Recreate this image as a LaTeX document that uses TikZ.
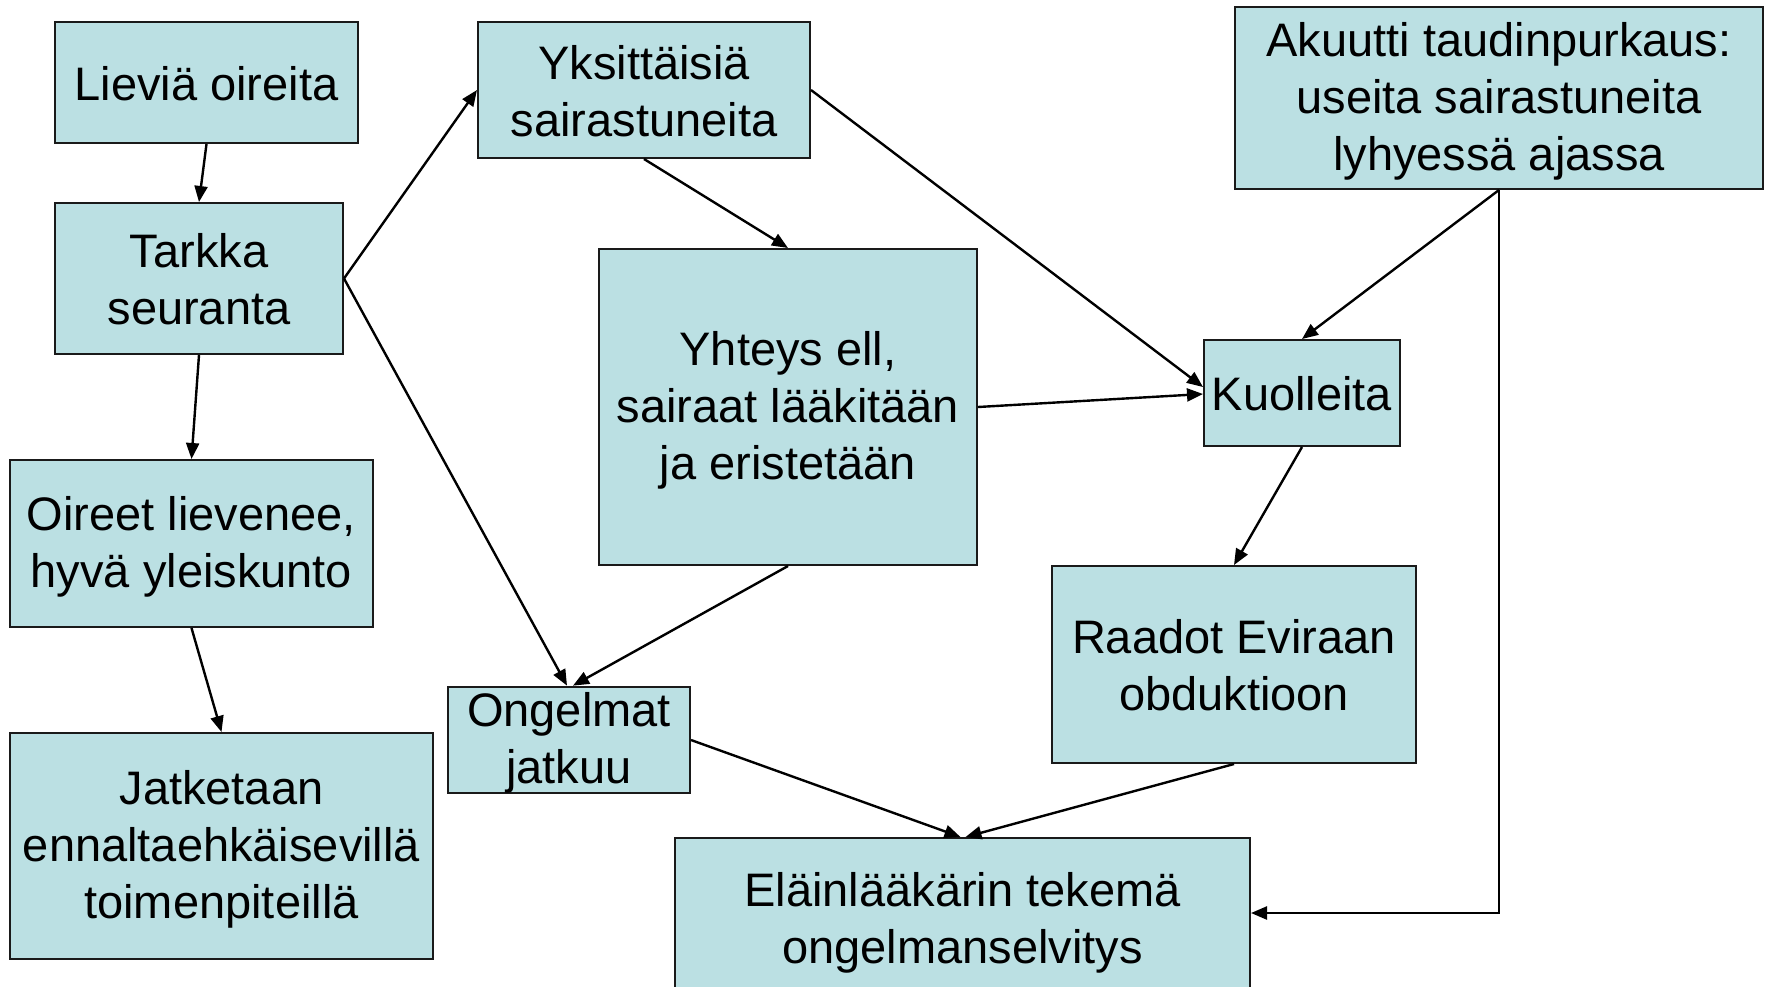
\documentclass[tikz,border=0pt]{standalone}
\usepackage{fontspec}
\setmainfont{Liberation Sans}
\usetikzlibrary{arrows.meta,calc}
\definecolor{boxfill}{HTML}{BBE0E3}
\definecolor{boxline}{HTML}{1A1A1A}
\newcommand{\bs}{\rule[-0.1em]{0pt}{0.95em}}
\tikzset{
  flowbox/.style={draw=boxline, line width=2pt, fill=boxfill, inner sep=0pt,
    align=center, font=\fontsize{47}{57}\selectfont, anchor=center},
  conn/.style={line width=2.4pt, -{Triangle[length=16pt,width=13pt]}}
}
\begin{document}
\begin{tikzpicture}[x=1pt,y=-1pt]
\useasboundingbox (0,0) rectangle (1765,986);
\clip (0,0) rectangle (1765,986);
\node[flowbox, minimum width=303pt, minimum height=121pt] (lie) at (206.5,82.5) {\bs Lieviä oireita\bs};
\node[flowbox, minimum width=288pt, minimum height=151pt] (tar) at (199,278.5) {\bs Tarkka\\seuranta\bs};
\node[flowbox, minimum width=332pt, minimum height=136pt] (yks) at (644,90) {\bs Yksittäisiä\\sairastuneita\bs};
\node[flowbox, minimum width=528pt, minimum height=182pt] (aku) at (1499,98) {\bs Akuutti taudinpurkaus:\\useita sairastuneita\\lyhyessä ajassa\bs};
\node[flowbox, minimum width=378pt, minimum height=316pt] (yht) at (788,407) {\bs Yhteys ell,\\sairaat lääkitään\\ja eristetään\bs};
\node[flowbox, minimum width=196pt, minimum height=106pt] (kuo) at (1302,393) {\bs Kuolleita\bs};
\node[flowbox, minimum width=363pt, minimum height=167pt] (oir) at (191.5,543.5) {\bs Oireet lievenee,\\hyvä yleiskunto\bs};
\node[flowbox, minimum width=364pt, minimum height=197pt] (raa) at (1234,664.5) {\bs Raadot Eviraan\\obduktioon\bs};
\node[flowbox, minimum width=242pt, minimum height=106pt] (ong) at (569,740) {\bs Ongelmat\\jatkuu\bs};
\node[flowbox, minimum width=423pt, minimum height=226pt] (jat) at (221.5,846) {\bs Jatketaan\\ennaltaehkäisevillä\\toimenpiteillä\bs};
\node[flowbox, minimum width=575pt, minimum height=164pt] (ela) at (962.5,920) {\bs Eläinlääkärin tekemä\\ongelmanselvitys\bs};

\draw[conn] (lie.south) -- (tar.north);
\draw[conn] (tar.east) -- (yks.west);
\draw[conn] (tar.east) -- ($(ong.north)+(-2,0)$);
\draw[conn] (tar.south) -- (oir.north);
\draw[conn] (oir.south) -- (jat.north);
\draw[conn] (yks.south) -- (yht.north);
\draw[conn] (yks.east) -- ($(kuo.west)+(0,-6)$);
\draw[conn] (yht.east) -- ($(kuo.west)+(0,1)$);
\draw[conn] (aku.south) -- (kuo.north);
\draw[conn] (aku.south) |- ($(ela.east)+(0,-7)$);
\draw[conn] (yht.south) -- ($(ong.north)+(4,0)$);
\draw[conn] (kuo.south) -- (raa.north);
\draw[conn] (ong.east) -- ($(ela.north)+(-2,0)$);
\draw[conn] (raa.south) -- ($(ela.north)+(3,0)$);
\end{tikzpicture}
\end{document}
